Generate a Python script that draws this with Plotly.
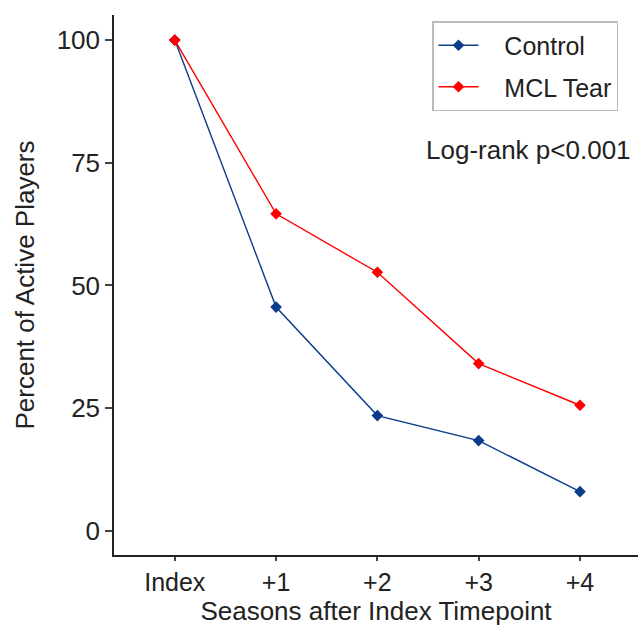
import plotly.graph_objects as go

categories = ["Index", "+1", "+2", "+3", "+4"]
control = [100, 45.6, 23.5, 18.4, 8.0]
mcl_tear = [100, 64.6, 52.7, 34.1, 25.6]
y_ticks = [0, 25, 50, 75, 100]
series_names = ["Control", "MCL Tear"]

xpos = list(range(len(categories)))
FONT = "Liberation Sans, Arial, sans-serif"
TXT = "#222222"
PAD = "\u00a0\u00a0\u00a0"

fig = go.Figure()
fig.add_trace(go.Scatter(
    x=xpos, y=control, name=PAD + series_names[0], mode="lines+markers", legendgroup="c",
    line=dict(color="#0B3C8C", width=1.4),
    marker=dict(symbol="diamond", size=9, color="#0B3C8C"),
))
fig.add_trace(go.Scatter(
    x=xpos, y=mcl_tear, name=PAD + series_names[1], mode="lines+markers", legendgroup="m",
    line=dict(color="#FF0000", width=1.4),
    marker=dict(symbol="diamond", size=9, color="#FF0000"),
))

fig.update_layout(
    width=638, height=626,
    margin=dict(l=114, r=0, t=15, b=71),
    plot_bgcolor="white", paper_bgcolor="white",
    font=dict(family=FONT, size=26, color=TXT),
    showlegend=True,
    legend=dict(
        x=(432 - 114) / 524, y=(555 - 21) / 540, xanchor="left", yanchor="top",
        bordercolor="#BBBBBB", borderwidth=1.5,
        font=dict(size=25, color=TXT),
        itemwidth=40, tracegroupgap=6,
        bgcolor="white",
    ),
    xaxis=dict(
        range=[-0.6, 4.573], tickmode="array", tickvals=xpos, ticktext=categories,
        showline=True, linecolor="#222", linewidth=1.5,
        ticks="outside", ticklen=4, tickcolor="#444", tickwidth=1.5,
        showgrid=False, zeroline=False,
        tickfont=dict(size=25, color=TXT),
        title=dict(text="Seasons after Index Timepoint", font=dict(size=26, color=TXT), standoff=0),
    ),
    yaxis=dict(
        range=[-4.9, 105.1], tickmode="array", tickvals=y_ticks,
        showline=True, linecolor="#222", linewidth=1.5,
        ticks="outside", ticklen=7, tickcolor="#444", tickwidth=1.5,
        showgrid=False, zeroline=False,
        tickfont=dict(size=26, color=TXT),
        title=dict(text="Percent of Active Players", font=dict(size=26, color=TXT), standoff=15),
    ),
    annotations=[dict(
        text="Log-rank p<0.001", xref="paper", yref="paper",
        x=(633 - 114) / 524, y=(555 - 150) / 540, xanchor="right", yanchor="middle",
        showarrow=False, font=dict(size=26, color=TXT),
    )],
)

fig.write_html("out.html")
